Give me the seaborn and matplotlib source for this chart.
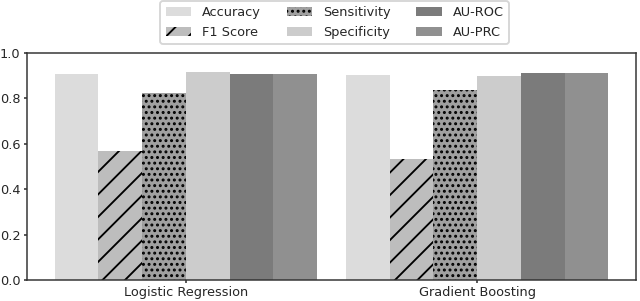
import matplotlib
matplotlib.use("Agg")
import matplotlib.pyplot as plt
from matplotlib.patches import Patch
import seaborn as sns
import pandas as pd

models = ["Logistic Regression", "Gradient Boosting"]
metrics = ["Accuracy", "F1 Score", "Sensitivity", "Specificity", "AU-ROC", "AU-PRC"]
lr_values = [0.909, 0.568, 0.823, 0.915, 0.909, 0.909]
gb_values = [0.902, 0.535, 0.838, 0.897, 0.912, 0.912]

colors = ["#dcdcdc", "#bdbdbd", "#a0a0a0", "#cccccc", "#7b7b7b", "#909090"]
hatches = ["", "//", "....", "", "", ""]

rows = []
for m, vals in zip(models, [lr_values, gb_values]):
    for met, v in zip(metrics, vals):
        rows.append({"model": m, "metric": met, "value": v})
df = pd.DataFrame(rows)

sns.set_style("ticks")
plt.rcParams["font.family"] = ["DejaVu Sans"]
plt.rcParams["hatch.linewidth"] = 1.0
DPI = 135
fs = 6.9
fig = plt.figure(figsize=(640 / DPI, 301 / DPI), dpi=DPI)
ax = fig.add_axes([27 / 640, 1 - 280 / 301, (636 - 27) / 640, (280 - 53) / 301])

sns.barplot(data=df, x="model", y="value", hue="metric", order=models,
            hue_order=metrics, palette=colors, width=0.9, saturation=1,
            errorbar=None, ax=ax, legend=False)

n_models = len(models)
for i, bar in enumerate(ax.patches[: len(metrics) * n_models]):
    h = hatches[i // n_models]
    bar.set_edgecolor("black" if h else colors[i // n_models])
    bar.set_linewidth(0)
    if h:
        bar.set_hatch(h)

ax.set_ylim(0, 1.0)
ax.set_xlim(-0.545, 1.545)
ax.set_yticks([0, 0.2, 0.4, 0.6, 0.8, 1.0])
ax.set_xlabel("")
ax.set_ylabel("")
ax.tick_params(labelsize=fs, length=1.8, pad=1.6, width=0.8)
for s in ax.spines.values():
    s.set_visible(True)
    s.set_linewidth(0.8)
    s.set_color("#333333")

handles = [Patch(facecolor=c, hatch=h, edgecolor="black" if h else c, linewidth=0, label=m)
           for c, h, m in zip(colors, hatches, metrics)]
ax.legend(handles=handles, loc="center", bbox_to_anchor=(0.505, 1.134), ncol=3,
          fontsize=fs, frameon=True, columnspacing=2.0)

fig.savefig("out.png", dpi=DPI)
